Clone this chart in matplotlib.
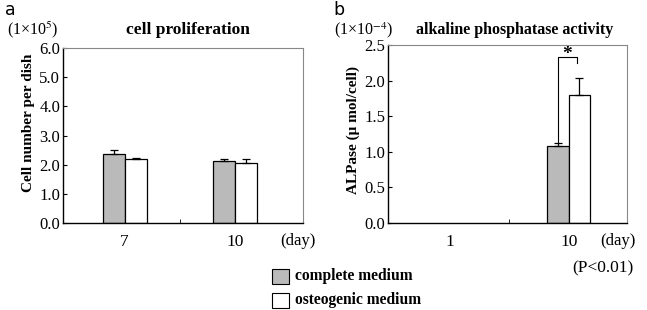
import numpy as np
import matplotlib
matplotlib.use("Agg")
import matplotlib.pyplot as plt
from matplotlib.patches import Rectangle

# data
days_a = ["7", "10"]
complete_a = [2.37, 2.11]
complete_a_err = [0.13, 0.10]
osteo_a = [2.20, 2.05]
osteo_a_err = [0.02, 0.16]

days_b = ["1", "10"]
complete_b = [0.0, 1.08]
complete_b_err = [0.0, 0.04]
osteo_b = [0.0, 1.80]
osteo_b_err = [0.0, 0.23]

W, H = 647, 310
plt.rcParams["font.family"] = ["Liberation Serif", "DejaVu Serif"]
plt.rcParams["mathtext.fontset"] = "stix"
fig = plt.figure(figsize=(W / 100, H / 100), dpi=100)

GREY = "#bababa"


def px(x, y):
    return x / W, 1 - y / H


def bars(ax, xpos, vals, errs, w, color):
    vals = np.asarray(vals)
    errs = np.asarray(errs)
    lw = np.where(vals > 0, 0.9, 0.0)
    ax.bar(xpos, vals, w, color=color, edgecolor="black", linewidth=lw)
    m = vals > 0
    ax.errorbar(xpos[m], vals[m], yerr=[np.zeros(m.sum()), errs[m]], fmt="none",
                ecolor="black", elinewidth=0.9, capsize=3, capthick=0.9)


def panel(rect, cats, c_vals, c_err, o_vals, o_err, xlim, ymax, step, w, ylabel, ly):
    ax = fig.add_axes(rect)
    x = np.arange(len(cats))
    bars(ax, x - w / 2, c_vals, c_err, w, GREY)
    bars(ax, x + w / 2, o_vals, o_err, w, "white")
    ax.set_xlim(*xlim)
    ax.set_ylim(0, ymax)
    ticks = np.arange(0, ymax + 0.001, step)
    ax.set_yticks(ticks)
    ax.set_yticklabels([f"{v:.1f}" for v in ticks])
    ax.set_xticks(x)
    ax.set_xticklabels(cats, fontsize=12.5)
    ax.set_xticks([0.5], minor=True)
    ax.tick_params(axis="x", which="major", length=0, pad=8)
    ax.tick_params(axis="x", which="minor", direction="in", length=3)
    ax.tick_params(axis="y", direction="in", length=3, labelsize=12, pad=2)
    for s in ["top", "right"]:
        ax.spines[s].set_color("#888888")
        ax.spines[s].set_linewidth(0.8)
    for s in ["left", "bottom"]:
        ax.spines[s].set_linewidth(1.0)
    ax.set_ylabel(ylabel, fontsize=11, fontweight="bold")
    ax.yaxis.set_label_coords(-0.118, ly)
    return ax


ax_a = panel([63 / W, 1 - 223 / H, 240 / W, 175 / H], days_a, complete_a, complete_a_err,
             osteo_a, osteo_a_err, (-0.56, 1.62), 6.0, 1.0, 0.2, "Cell number per dish", 0.57)
ax_b = panel([388 / W, 1 - 223 / H, 239 / W, 178 / H], days_b, complete_b, complete_b_err,
             osteo_b, osteo_b_err, (-0.52, 1.49), 2.5, 0.5, 0.18, "ALPase (\u03bc mol/cell)", 0.52)

# significance bracket in panel b
w = 0.18
xl, xr = 1 - w / 2, 1 + w / 2 - 0.02
top = 2.33
ax_b.plot([xl, xl, xr, xr], [complete_b[1] + complete_b_err[1], top, top, 2.25],
          color="black", lw=0.8)
ax_b.text((xl + xr) / 2, 2.37, "*", ha="center", va="center", fontsize=14, fontweight="bold")

# texts
fig.text(*px(5, 10), "a", family="DejaVu Sans", fontsize=12.5, va="center")
fig.text(*px(333, 10), "b", family="DejaVu Sans", fontsize=12.5, va="center")
fig.text(*px(7, 30), "(1\u00d710$^{5}$)", fontsize=11.5, va="center")
fig.text(*px(188, 30), "cell proliferation", fontsize=12.5, fontweight="bold", ha="center", va="center")
fig.text(*px(334, 30), "(1\u00d710$^{-4}$)", fontsize=11.5, va="center")
fig.text(*px(515, 30), "alkaline phosphatase activity", fontsize=11.5, fontweight="bold", ha="center", va="center")
fig.text(*px(280, 241), "(day)", fontsize=12, va="center")
fig.text(*px(600, 241), "(day)", fontsize=12, va="center")
fig.text(*px(572, 268), "(P<0.01)", fontsize=12.5, va="center")

# legend
fig.patches.append(Rectangle(px(272, 284), 17 / W, 15 / H, transform=fig.transFigure,
                             facecolor=GREY, edgecolor="black", lw=0.8))
fig.patches.append(Rectangle(px(272, 308), 17 / W, 15 / H, transform=fig.transFigure,
                             facecolor="white", edgecolor="black", lw=0.8))
fig.text(*px(295, 276), "complete medium", fontsize=11.2, fontweight="bold", va="center")
fig.text(*px(295, 300), "osteogenic medium", fontsize=11.2, fontweight="bold", va="center")

fig.savefig("out.png", dpi=100)
